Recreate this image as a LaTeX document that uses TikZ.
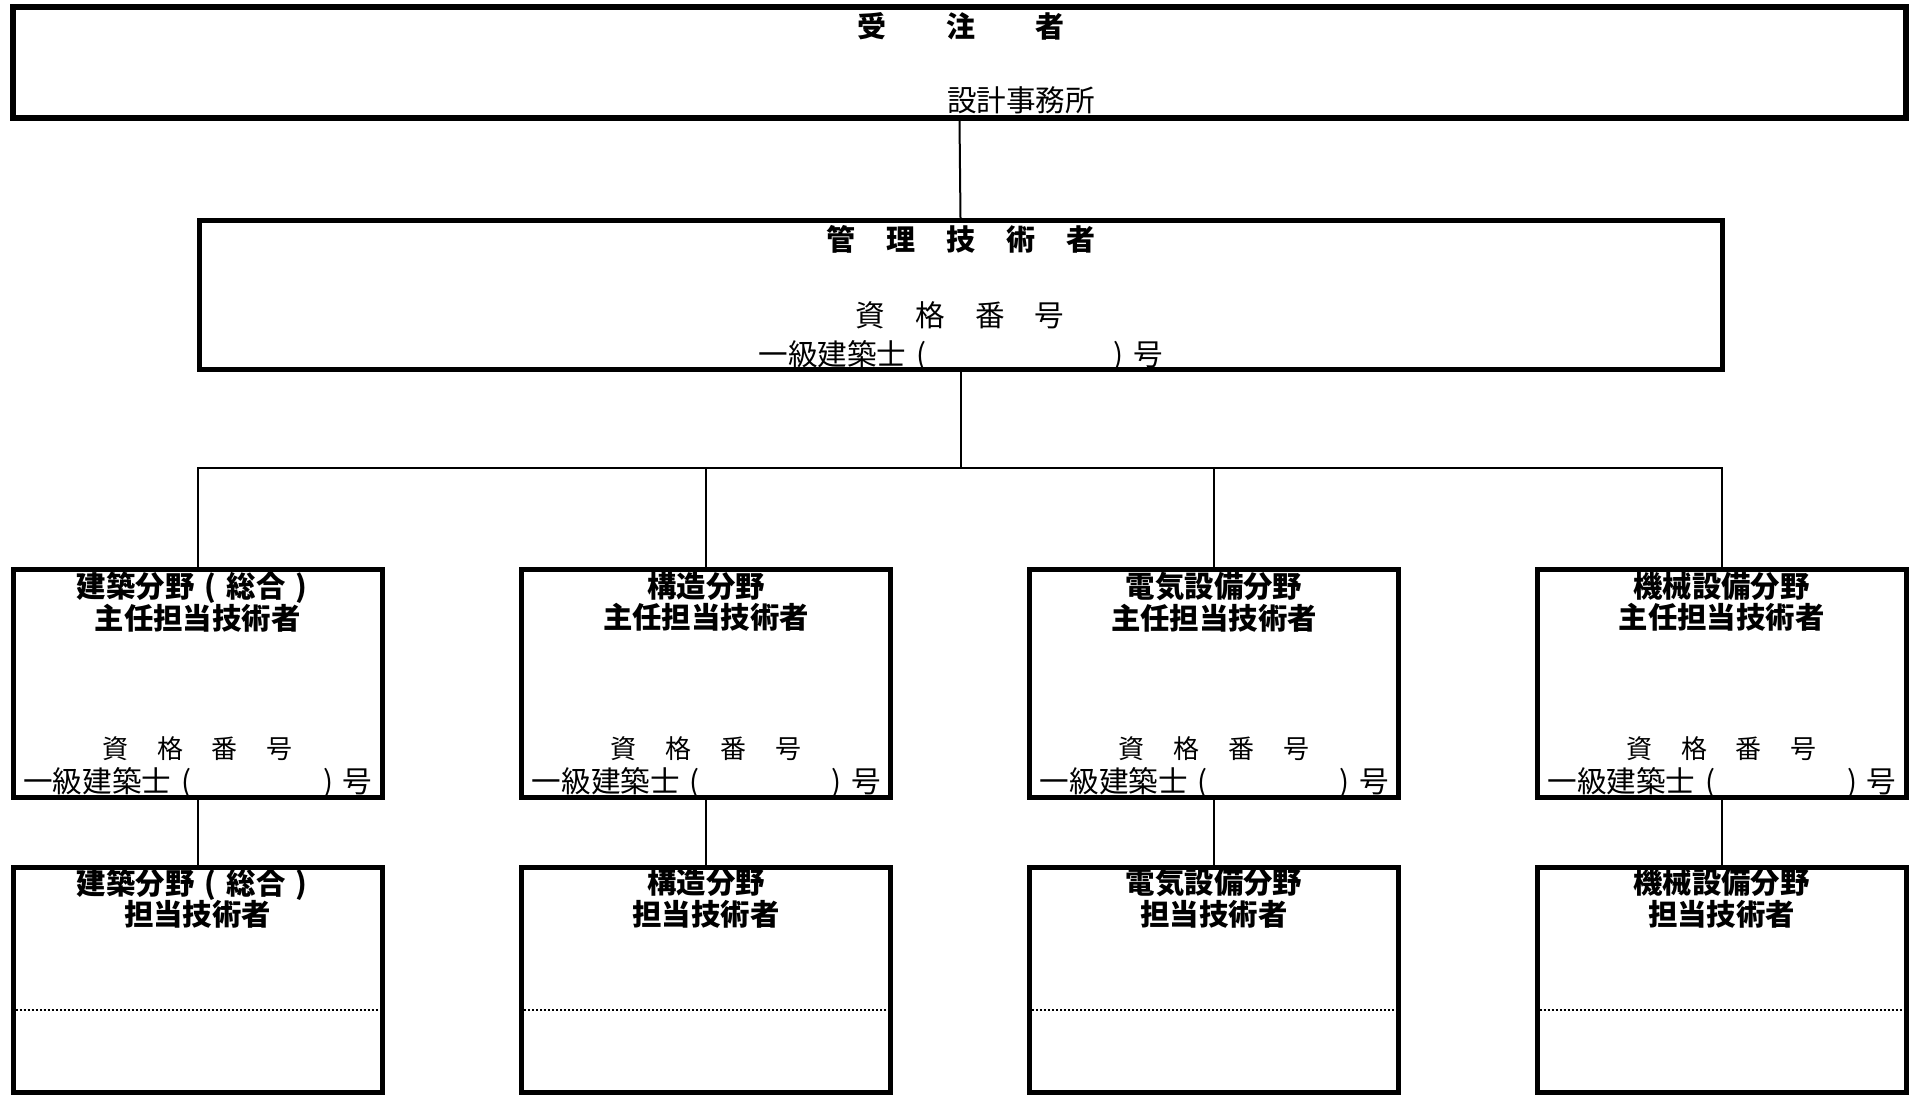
\documentclass[tikz,border=0pt]{standalone}
\usepackage{fontspec}
\setmainfont{Noto Sans CJK JP}
\newcommand{\zlp}{\makebox[1.1em][c]{(}}
\newcommand{\zrp}{\makebox[1.1em][c]{)}}
\newcommand{\nlp}{\makebox[1em][c]{(}}
\newcommand{\nrp}{\makebox[1em][c]{)}}
\begin{document}
\begin{tikzpicture}[x=0.5pt,y=-0.5pt,
  outerbox/.style={draw=black, line width=3pt, inner sep=0pt, minimum width=946.5pt, minimum height=55.5pt},
  mgrbox/.style={draw=black, line width=2.5pt, inner sep=0pt, minimum width=761.5pt, minimum height=74.5pt},
  midbox/.style={draw=black, line width=2.5pt, inner sep=0pt, minimum width=184.5pt, minimum height=114pt},
  lowbox/.style={draw=black, line width=2.5pt, inner sep=0pt, minimum width=184.5pt, minimum height=112.5pt},
  link/.style={draw=black, line width=1pt},
  ttl/.style={inner sep=0pt, align=center, font=\fontsize{14.7pt}{15.8pt}\selectfont\bfseries},
  big/.style={inner sep=0pt, font=\fontsize{14.5pt}{16pt}\selectfont\bfseries},
  reg/.style={inner sep=0pt, font=\fontsize{14.8pt}{16pt}\selectfont},
  sml/.style={inner sep=0pt, font=\fontsize{13pt}{15pt}\selectfont}
]
\useasboundingbox (0,0) rectangle (1910,1096);

% top box
\node[outerbox] (top) at (959.5,62.5) {};
\node[big] (toptitle) at (961,26) {受\hspace{30pt}注\hspace{30pt}者};
\node[reg] (office) at (1021,100) {設計事務所};

% manager box
\node[mgrbox] (mgr) at (960.5,295.5) {};
\node[big] (mgrtitle) at (961,239) {管\hspace{15.5pt}理\hspace{15.5pt}技\hspace{15.5pt}術\hspace{15.5pt}者};
\node[reg] (mgrq) at (960,315) {資\hspace{15pt}格\hspace{15pt}番\hspace{15pt}号};
\node[reg] (mgrno) at (960.5,355.5) {一級建築士\nlp\hspace{83.7pt}\nrp 号};

% middle row
\foreach \n/\cx/\ta/\tb in {1/197.5/建築分野\zlp 総合\zrp/主任担当技術者, 2/706/構造分野/主任担当技術者, 3/1214/電気設備分野/主任担当技術者, 4/1721.5/機械設備分野/主任担当技術者}{
  \node[midbox] (m\n) at (\cx,683) {};
  \node[ttl] (mt\n) at (\cx,602) {\ta\\\tb};
  \node[sml] (mq\n) at (\cx,749) {資\hspace{14.4pt}格\hspace{14.4pt}番\hspace{14.4pt}号};
  \node[reg] (mn\n) at (\cx+0.5,783) {一級建築士\nlp\hspace{56.2pt}\nrp 号};
}

% lower row
\foreach \n/\cx/\ta in {1/197.5/建築分野\zlp 総合\zrp, 2/706/構造分野, 3/1214/電気設備分野, 4/1721.5/機械設備分野}{
  \node[lowbox] (l\n) at (\cx,979.5) {};
  \node[ttl] (lt\n) at (\cx,898.5) {\ta\\担当技術者};
  \coordinate (dl\n) at (\cx-182,1010);
  \coordinate (dr\n) at (\cx+182,1010);
  \draw[line width=1pt, dash pattern=on 1pt off 1pt] (dl\n) -- (dr\n);
}

% connectors
\coordinate (bus) at (960.5,468);
\draw[link] (top.south) -- (mgr.north);
\draw[link] (mgr.south) -- (bus);
\draw[link] (m1.north) |- (bus) -| (m4.north);
\draw[link] (m2.north) -- (m2.north |- bus);
\draw[link] (m3.north) -- (m3.north |- bus);
\foreach \n in {1,2,3,4}{
  \draw[link] (m\n.south) -- (l\n.north);
}
\end{tikzpicture}
\end{document}
